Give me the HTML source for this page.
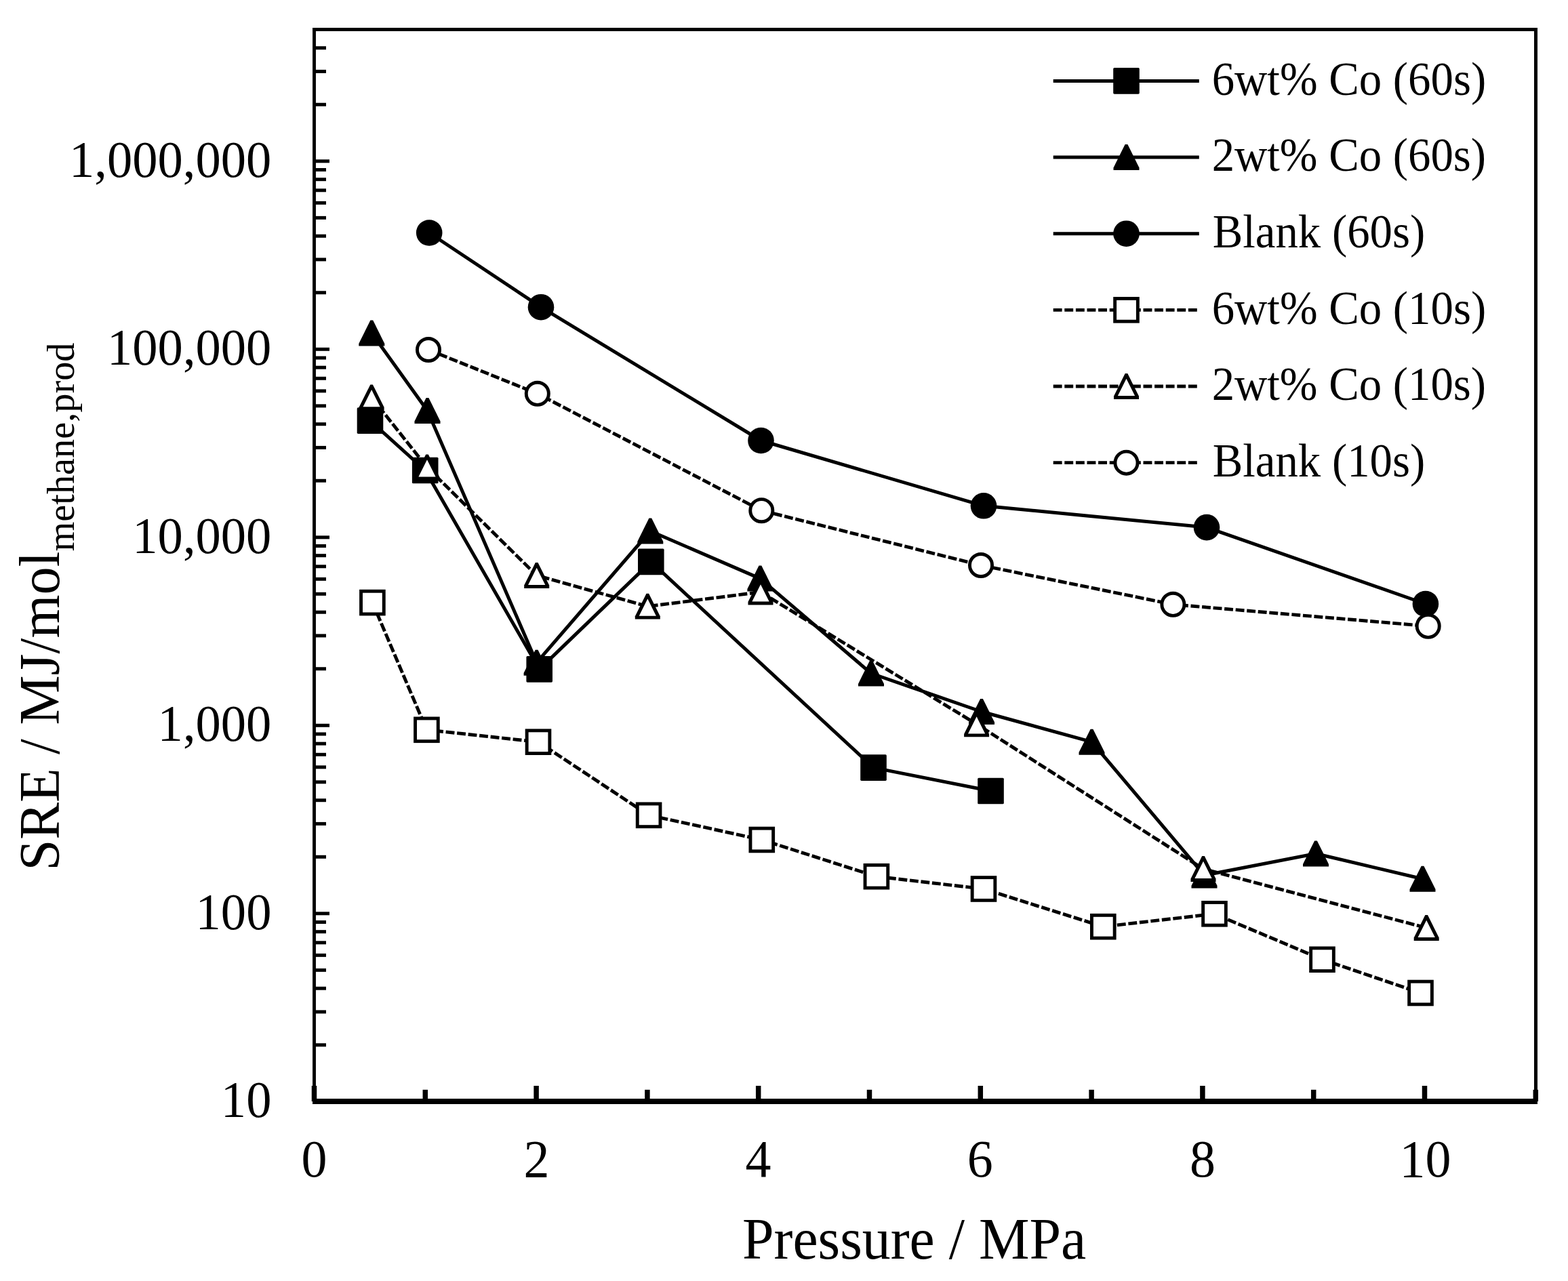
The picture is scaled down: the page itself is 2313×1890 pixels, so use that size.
<!DOCTYPE html>
<html><head><meta charset="utf-8"><title>SRE vs Pressure</title>
<style>html,body{margin:0;padding:0;background:#fff;}svg{display:block;}</style>
</head><body>
<svg width="2313" height="1890" viewBox="0 0 2313 1890">
<rect width="2313" height="1890" fill="#fff"/>
<g font-family='"Liberation Serif","Times New Roman",serif' fill="#000">
<g stroke="#000" fill="none">
<line x1="461.0" y1="43.5" x2="2268.0" y2="43.5" stroke-width="5"/>
<line x1="2265.5" y1="41.0" x2="2265.5" y2="1625.0" stroke-width="5"/>
<line x1="463.5" y1="41.0" x2="463.5" y2="1625.0" stroke-width="4.9"/>
<line x1="461.0" y1="1625.0" x2="2268.0" y2="1625.0" stroke-width="7.9"/>
<line x1="463.5" y1="1541.76" x2="481.0" y2="1541.76" stroke-width="5"/>
<line x1="463.5" y1="1492.90" x2="481.0" y2="1492.90" stroke-width="5"/>
<line x1="463.5" y1="1458.23" x2="481.0" y2="1458.23" stroke-width="5"/>
<line x1="463.5" y1="1431.34" x2="481.0" y2="1431.34" stroke-width="5"/>
<line x1="463.5" y1="1409.36" x2="481.0" y2="1409.36" stroke-width="5"/>
<line x1="463.5" y1="1390.79" x2="481.0" y2="1390.79" stroke-width="5"/>
<line x1="463.5" y1="1374.69" x2="481.0" y2="1374.69" stroke-width="5"/>
<line x1="463.5" y1="1360.50" x2="481.0" y2="1360.50" stroke-width="5"/>
<line x1="463.5" y1="1347.80" x2="486.0" y2="1347.80" stroke-width="5"/>
<line x1="463.5" y1="1264.26" x2="481.0" y2="1264.26" stroke-width="5"/>
<line x1="463.5" y1="1215.40" x2="481.0" y2="1215.40" stroke-width="5"/>
<line x1="463.5" y1="1180.73" x2="481.0" y2="1180.73" stroke-width="5"/>
<line x1="463.5" y1="1153.84" x2="481.0" y2="1153.84" stroke-width="5"/>
<line x1="463.5" y1="1131.86" x2="481.0" y2="1131.86" stroke-width="5"/>
<line x1="463.5" y1="1113.29" x2="481.0" y2="1113.29" stroke-width="5"/>
<line x1="463.5" y1="1097.19" x2="481.0" y2="1097.19" stroke-width="5"/>
<line x1="463.5" y1="1083.00" x2="481.0" y2="1083.00" stroke-width="5"/>
<line x1="463.5" y1="1070.30" x2="486.0" y2="1070.30" stroke-width="5"/>
<line x1="463.5" y1="986.76" x2="481.0" y2="986.76" stroke-width="5"/>
<line x1="463.5" y1="937.90" x2="481.0" y2="937.90" stroke-width="5"/>
<line x1="463.5" y1="903.23" x2="481.0" y2="903.23" stroke-width="5"/>
<line x1="463.5" y1="876.34" x2="481.0" y2="876.34" stroke-width="5"/>
<line x1="463.5" y1="854.36" x2="481.0" y2="854.36" stroke-width="5"/>
<line x1="463.5" y1="835.79" x2="481.0" y2="835.79" stroke-width="5"/>
<line x1="463.5" y1="819.69" x2="481.0" y2="819.69" stroke-width="5"/>
<line x1="463.5" y1="805.50" x2="481.0" y2="805.50" stroke-width="5"/>
<line x1="463.5" y1="792.80" x2="486.0" y2="792.80" stroke-width="5"/>
<line x1="463.5" y1="709.26" x2="481.0" y2="709.26" stroke-width="5"/>
<line x1="463.5" y1="660.40" x2="481.0" y2="660.40" stroke-width="5"/>
<line x1="463.5" y1="625.73" x2="481.0" y2="625.73" stroke-width="5"/>
<line x1="463.5" y1="598.84" x2="481.0" y2="598.84" stroke-width="5"/>
<line x1="463.5" y1="576.86" x2="481.0" y2="576.86" stroke-width="5"/>
<line x1="463.5" y1="558.29" x2="481.0" y2="558.29" stroke-width="5"/>
<line x1="463.5" y1="542.19" x2="481.0" y2="542.19" stroke-width="5"/>
<line x1="463.5" y1="528.00" x2="481.0" y2="528.00" stroke-width="5"/>
<line x1="463.5" y1="515.30" x2="486.0" y2="515.30" stroke-width="5"/>
<line x1="463.5" y1="431.76" x2="481.0" y2="431.76" stroke-width="5"/>
<line x1="463.5" y1="382.90" x2="481.0" y2="382.90" stroke-width="5"/>
<line x1="463.5" y1="348.23" x2="481.0" y2="348.23" stroke-width="5"/>
<line x1="463.5" y1="321.34" x2="481.0" y2="321.34" stroke-width="5"/>
<line x1="463.5" y1="299.36" x2="481.0" y2="299.36" stroke-width="5"/>
<line x1="463.5" y1="280.79" x2="481.0" y2="280.79" stroke-width="5"/>
<line x1="463.5" y1="264.69" x2="481.0" y2="264.69" stroke-width="5"/>
<line x1="463.5" y1="250.50" x2="481.0" y2="250.50" stroke-width="5"/>
<line x1="463.5" y1="237.80" x2="486.0" y2="237.80" stroke-width="5"/>
<line x1="463.5" y1="154.26" x2="481.0" y2="154.26" stroke-width="5"/>
<line x1="463.5" y1="105.40" x2="481.0" y2="105.40" stroke-width="5"/>
<line x1="463.5" y1="70.73" x2="481.0" y2="70.73" stroke-width="5"/>
<line x1="463.50" y1="1602" x2="463.50" y2="1625.0" stroke-width="7.5"/>
<line x1="627.30" y1="1607.8" x2="627.30" y2="1625.0" stroke-width="7.5"/>
<line x1="791.10" y1="1602" x2="791.10" y2="1625.0" stroke-width="7.5"/>
<line x1="954.90" y1="1607.8" x2="954.90" y2="1625.0" stroke-width="7.5"/>
<line x1="1118.70" y1="1602" x2="1118.70" y2="1625.0" stroke-width="7.5"/>
<line x1="1282.50" y1="1607.8" x2="1282.50" y2="1625.0" stroke-width="7.5"/>
<line x1="1446.30" y1="1602" x2="1446.30" y2="1625.0" stroke-width="7.5"/>
<line x1="1610.10" y1="1607.8" x2="1610.10" y2="1625.0" stroke-width="7.5"/>
<line x1="1773.90" y1="1602" x2="1773.90" y2="1625.0" stroke-width="7.5"/>
<line x1="1937.70" y1="1607.8" x2="1937.70" y2="1625.0" stroke-width="7.5"/>
<line x1="2101.50" y1="1602" x2="2101.50" y2="1625.0" stroke-width="7.5"/>
<line x1="2265.30" y1="1607.8" x2="2265.30" y2="1625.0" stroke-width="7.5"/>
</g>
<text transform="translate(325.84,1648.10) scale(0.7460,0.7650)" font-size="100" >10</text>
<text transform="translate(288.54,1370.60) scale(0.7460,0.7650)" font-size="100" >100</text>
<text transform="translate(232.59,1093.10) scale(0.7460,0.7650)" font-size="100" >1,000</text>
<text transform="translate(195.29,815.60) scale(0.7460,0.7650)" font-size="100" >10,000</text>
<text transform="translate(157.99,538.10) scale(0.7460,0.7650)" font-size="100" >100,000</text>
<text transform="translate(102.04,260.60) scale(0.7460,0.7650)" font-size="100" >1,000,000</text>
<text transform="translate(444.50,1736.30) scale(0.7600,0.7850)" font-size="100" >0</text>
<text transform="translate(772.53,1736.30) scale(0.7600,0.7850)" font-size="100" >2</text>
<text transform="translate(1099.55,1736.30) scale(0.7600,0.7850)" font-size="100" >4</text>
<text transform="translate(1426.80,1736.30) scale(0.7600,0.7850)" font-size="100" >6</text>
<text transform="translate(1754.90,1736.30) scale(0.7600,0.7850)" font-size="100" >8</text>
<text transform="translate(2064.41,1736.30) scale(0.7600,0.7850)" font-size="100" >10</text>
<text transform="translate(1094.89,1857.00) scale(0.8380,0.8610)" font-size="100" >Pressure / MPa</text>
<text transform="translate(87,1284.51) rotate(-90) scale(0.8230,0.8520)" font-size="100">SRE / MJ/mol</text>
<text transform="translate(108.9,813.45) rotate(-90) scale(0.5630,0.5670)" font-size="100">methane,prod</text>
</g>
<polyline points="546.0,620.6 627.2,694.0 795.7,987.4 960.3,828.9 1288.5,1132.6 1461.5,1167.0" fill="none" stroke="#000" stroke-width="5.0" stroke-linejoin="round"/>
<rect x="526.70" y="601.30" width="38.6" height="38.6" rx="1.6" fill="#000"/>
<rect x="607.90" y="674.70" width="38.6" height="38.6" rx="1.6" fill="#000"/>
<rect x="776.40" y="968.10" width="38.6" height="38.6" rx="1.6" fill="#000"/>
<rect x="941.00" y="809.60" width="38.6" height="38.6" rx="1.6" fill="#000"/>
<rect x="1269.20" y="1113.30" width="38.6" height="38.6" rx="1.6" fill="#000"/>
<rect x="1442.20" y="1147.70" width="38.6" height="38.6" rx="1.6" fill="#000"/>
<polyline points="548.3,491.5 630.5,606.0 791.6,977.7 959.3,783.5 1121.4,853.6 1285.0,993.5 1448.0,1050.0 1610.5,1094.7 1776.5,1291.4 1941.0,1259.5 2098.5,1296.7" fill="none" stroke="#000" stroke-width="5.0" stroke-linejoin="round"/>
<polygon points="546.40,472.50 550.20,472.50 567.30,506.90 567.30,510.50 529.30,510.50 529.30,506.90" fill="#000"/>
<polygon points="628.60,587.00 632.40,587.00 649.50,621.40 649.50,625.00 611.50,625.00 611.50,621.40" fill="#000"/>
<polygon points="789.70,958.70 793.50,958.70 810.60,993.10 810.60,996.70 772.60,996.70 772.60,993.10" fill="#000"/>
<polygon points="957.40,764.50 961.20,764.50 978.30,798.90 978.30,802.50 940.30,802.50 940.30,798.90" fill="#000"/>
<polygon points="1119.50,834.60 1123.30,834.60 1140.40,869.00 1140.40,872.60 1102.40,872.60 1102.40,869.00" fill="#000"/>
<polygon points="1283.10,974.50 1286.90,974.50 1304.00,1008.90 1304.00,1012.50 1266.00,1012.50 1266.00,1008.90" fill="#000"/>
<polygon points="1446.10,1031.00 1449.90,1031.00 1467.00,1065.40 1467.00,1069.00 1429.00,1069.00 1429.00,1065.40" fill="#000"/>
<polygon points="1608.60,1075.70 1612.40,1075.70 1629.50,1110.10 1629.50,1113.70 1591.50,1113.70 1591.50,1110.10" fill="#000"/>
<polygon points="1774.60,1272.40 1778.40,1272.40 1795.50,1306.80 1795.50,1310.40 1757.50,1310.40 1757.50,1306.80" fill="#000"/>
<polygon points="1939.10,1240.50 1942.90,1240.50 1960.00,1274.90 1960.00,1278.50 1922.00,1278.50 1922.00,1274.90" fill="#000"/>
<polygon points="2096.60,1277.70 2100.40,1277.70 2117.50,1312.10 2117.50,1315.70 2079.50,1315.70 2079.50,1312.10" fill="#000"/>
<polyline points="633.2,343.5 798.0,453.2 1122.5,650.0 1451.0,746.3 1780.0,778.1 2102.9,891.0" fill="none" stroke="#000" stroke-width="5.0" stroke-linejoin="round"/>
<circle cx="633.20" cy="343.50" r="19.3" fill="#000"/>
<circle cx="798.00" cy="453.20" r="19.3" fill="#000"/>
<circle cx="1122.50" cy="650.00" r="19.3" fill="#000"/>
<circle cx="1451.00" cy="746.30" r="19.3" fill="#000"/>
<circle cx="1780.00" cy="778.10" r="19.3" fill="#000"/>
<circle cx="2102.90" cy="891.00" r="19.3" fill="#000"/>
<polyline points="549.4,889.1 629.4,1076.8 794.0,1094.7 957.1,1202.8 1123.8,1239.0 1292.9,1293.2 1451.0,1311.5 1627.3,1367.2 1791.5,1348.3 1950.5,1415.7 2095.5,1465.0" fill="none" stroke="#000" stroke-width="4.9" stroke-dasharray="12.9 3.7" stroke-linecap="butt" stroke-linejoin="round"/>
<rect x="532.55" y="872.25" width="33.70" height="33.70" fill="#fff" stroke="#000" stroke-width="4.9"/>
<rect x="612.55" y="1059.95" width="33.70" height="33.70" fill="#fff" stroke="#000" stroke-width="4.9"/>
<rect x="777.15" y="1077.85" width="33.70" height="33.70" fill="#fff" stroke="#000" stroke-width="4.9"/>
<rect x="940.25" y="1185.95" width="33.70" height="33.70" fill="#fff" stroke="#000" stroke-width="4.9"/>
<rect x="1106.95" y="1222.15" width="33.70" height="33.70" fill="#fff" stroke="#000" stroke-width="4.9"/>
<rect x="1276.05" y="1276.35" width="33.70" height="33.70" fill="#fff" stroke="#000" stroke-width="4.9"/>
<rect x="1434.15" y="1294.65" width="33.70" height="33.70" fill="#fff" stroke="#000" stroke-width="4.9"/>
<rect x="1610.45" y="1350.35" width="33.70" height="33.70" fill="#fff" stroke="#000" stroke-width="4.9"/>
<rect x="1774.65" y="1331.45" width="33.70" height="33.70" fill="#fff" stroke="#000" stroke-width="4.9"/>
<rect x="1933.65" y="1398.85" width="33.70" height="33.70" fill="#fff" stroke="#000" stroke-width="4.9"/>
<rect x="2078.65" y="1448.15" width="33.70" height="33.70" fill="#fff" stroke="#000" stroke-width="4.9"/>
<polyline points="548.1,586.3 630.0,689.5 791.7,849.0 955.3,894.7 1122.0,873.5 1440.6,1068.4 1775.0,1282.0 2104.2,1369.0" fill="none" stroke="#000" stroke-width="4.9" stroke-dasharray="12.9 3.7" stroke-linecap="butt" stroke-linejoin="round"/>
<polygon points="546.30,567.40 549.90,567.40 566.60,600.80 566.60,605.20 529.60,605.20 529.60,600.80" fill="#000"/>
<polygon points="548.10,575.10 560.70,600.30 535.50,600.30" fill="#fff"/>
<polygon points="628.20,670.60 631.80,670.60 648.50,704.00 648.50,708.40 611.50,708.40 611.50,704.00" fill="#000"/>
<polygon points="630.00,678.30 642.60,703.50 617.40,703.50" fill="#fff"/>
<polygon points="789.90,830.10 793.50,830.10 810.20,863.50 810.20,867.90 773.20,867.90 773.20,863.50" fill="#000"/>
<polygon points="791.70,837.80 804.30,863.00 779.10,863.00" fill="#fff"/>
<polygon points="953.50,875.80 957.10,875.80 973.80,909.20 973.80,913.60 936.80,913.60 936.80,909.20" fill="#000"/>
<polygon points="955.30,883.50 967.90,908.70 942.70,908.70" fill="#fff"/>
<polygon points="1120.20,854.60 1123.80,854.60 1140.50,888.00 1140.50,892.40 1103.50,892.40 1103.50,888.00" fill="#000"/>
<polygon points="1122.00,862.30 1134.60,887.50 1109.40,887.50" fill="#fff"/>
<polygon points="1438.80,1049.50 1442.40,1049.50 1459.10,1082.90 1459.10,1087.30 1422.10,1087.30 1422.10,1082.90" fill="#000"/>
<polygon points="1440.60,1057.20 1453.20,1082.40 1428.00,1082.40" fill="#fff"/>
<polygon points="1773.20,1263.10 1776.80,1263.10 1793.50,1296.50 1793.50,1300.90 1756.50,1300.90 1756.50,1296.50" fill="#000"/>
<polygon points="1775.00,1270.80 1787.60,1296.00 1762.40,1296.00" fill="#fff"/>
<polygon points="2102.40,1350.10 2106.00,1350.10 2122.70,1383.50 2122.70,1387.90 2085.70,1387.90 2085.70,1383.50" fill="#000"/>
<polygon points="2104.20,1357.80 2116.80,1383.00 2091.60,1383.00" fill="#fff"/>
<polyline points="632.0,516.0 792.8,580.8 1123.3,753.2 1447.0,834.0 1730.4,891.8 2106.7,923.8" fill="none" stroke="#000" stroke-width="4.9" stroke-dasharray="12.9 3.7" stroke-linecap="butt" stroke-linejoin="round"/>
<circle cx="632.00" cy="516.00" r="16.55" fill="#fff" stroke="#000" stroke-width="4.9"/>
<circle cx="792.80" cy="580.80" r="16.55" fill="#fff" stroke="#000" stroke-width="4.9"/>
<circle cx="1123.30" cy="753.20" r="16.55" fill="#fff" stroke="#000" stroke-width="4.9"/>
<circle cx="1447.00" cy="834.00" r="16.55" fill="#fff" stroke="#000" stroke-width="4.9"/>
<circle cx="1730.40" cy="891.80" r="16.55" fill="#fff" stroke="#000" stroke-width="4.9"/>
<circle cx="2106.70" cy="923.80" r="16.55" fill="#fff" stroke="#000" stroke-width="4.9"/>
<g font-family='"Liberation Serif","Times New Roman",serif' fill="#000">
<polyline points="1553.7,119.4 1768.8,119.4" fill="none" stroke="#000" stroke-width="5.0" stroke-linejoin="round"/>
<rect x="1642.20" y="100.10" width="38.6" height="38.6" rx="1.6" fill="#000"/>
<text transform="translate(1787.73,139.70) scale(0.6680,0.7040)" font-size="100" >6wt% Co (60s)</text>
<polyline points="1553.7,232.1 1768.8,232.1" fill="none" stroke="#000" stroke-width="5.0" stroke-linejoin="round"/>
<polygon points="1659.60,213.05 1663.40,213.05 1680.50,247.45 1680.50,251.05 1642.50,251.05 1642.50,247.45" fill="#000"/>
<text transform="translate(1787.66,252.35) scale(0.6680,0.7040)" font-size="100" >2wt% Co (60s)</text>
<polyline points="1553.7,344.7 1768.8,344.7" fill="none" stroke="#000" stroke-width="5.0" stroke-linejoin="round"/>
<circle cx="1661.50" cy="344.70" r="19.3" fill="#000"/>
<text transform="translate(1788.68,365.00) scale(0.6680,0.7040)" font-size="100" >Blank (60s)</text>
<polyline points="1553.7,457.4 1768.8,457.4" fill="none" stroke="#000" stroke-width="4.9" stroke-dasharray="12.9 3.7" stroke-linecap="butt" stroke-linejoin="round"/>
<rect x="1644.65" y="440.50" width="33.70" height="33.70" fill="#fff" stroke="#000" stroke-width="4.9"/>
<text transform="translate(1787.73,477.65) scale(0.6680,0.7040)" font-size="100" >6wt% Co (10s)</text>
<polyline points="1553.7,570.0 1768.8,570.0" fill="none" stroke="#000" stroke-width="4.9" stroke-dasharray="12.9 3.7" stroke-linecap="butt" stroke-linejoin="round"/>
<polygon points="1659.70,551.10 1663.30,551.10 1680.00,584.50 1680.00,588.90 1643.00,588.90 1643.00,584.50" fill="#000"/>
<polygon points="1661.50,558.80 1674.10,584.00 1648.90,584.00" fill="#fff"/>
<text transform="translate(1787.66,590.30) scale(0.6680,0.7040)" font-size="100" >2wt% Co (10s)</text>
<polyline points="1553.7,682.6 1768.8,682.6" fill="none" stroke="#000" stroke-width="4.9" stroke-dasharray="12.9 3.7" stroke-linecap="butt" stroke-linejoin="round"/>
<circle cx="1661.50" cy="682.65" r="16.55" fill="#fff" stroke="#000" stroke-width="4.9"/>
<text transform="translate(1788.68,702.95) scale(0.6680,0.7040)" font-size="100" >Blank (10s)</text>
</g>
</svg>
</body></html>
